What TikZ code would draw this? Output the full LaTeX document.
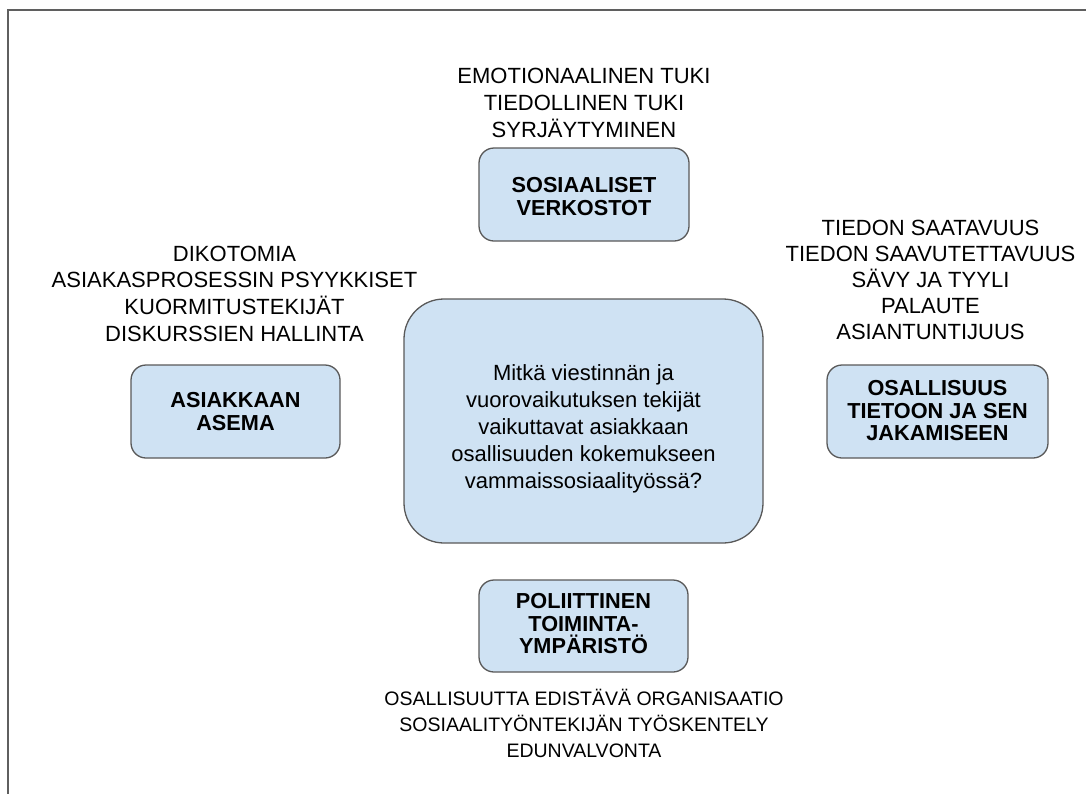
\documentclass[tikz,border=0pt]{standalone}
\usepackage{fontspec}
\setmainfont{Liberation Sans}
\definecolor{boxfill}{HTML}{CFE2F3}
\definecolor{boxline}{HTML}{595959}
\definecolor{frameline}{HTML}{5F5F5F}
\newcommand\firstln{\rule{0pt}{24pt}}
\tikzset{
  box/.style={draw=boxline, fill=boxfill, line width=1.3pt, rounded corners=15pt, inner sep=0pt},
  lbl/.style={inner sep=0pt, anchor=north, align=center, font=\fontsize{22}{26.7}\selectfont},
  lblr/.style={inner sep=0pt, anchor=north, align=center, font=\fontsize{22}{25.8}\selectfont},
  lblc/.style={inner sep=0pt, anchor=north, align=center, font=\fontsize{22}{27.2}\selectfont},
  lblb/.style={inner sep=0pt, anchor=north, align=center, font=\fontsize{19.5}{26}\selectfont},
  boxtxt/.style={inner sep=0pt, anchor=north, align=center, font=\fontsize{21.7}{22.6}\selectfont\bfseries}
}
\begin{document}
\begin{tikzpicture}[x=1pt,y=-1pt]
\useasboundingbox (0,0) rectangle (1086,793);
\clip (0,0) rectangle (1086,793);
% frame
\draw[frameline, line width=2pt] (7.5,800) -- (7.5,9.5) -- (1100,9.5);
% boxes
\node[box, minimum width=210pt, minimum height=93pt] (sos) at (584,194.5) {};
\node[box, minimum width=209pt, minimum height=93pt] (asi) at (235.5,411.5) {};
\node[box, minimum width=221pt, minimum height=93pt] (osa) at (937.5,411.5) {};
\node[box, minimum width=209pt, minimum height=92pt] (pol) at (583.5,626) {};
\node[box, rounded corners=40pt, minimum width=359pt, minimum height=244pt] (ctr) at (583.5,421) {};
% box texts
\node[boxtxt] (sostxt) at (584,168.2) {\firstln SOSIAALISET\\VERKOSTOT};
\node[boxtxt] (asitxt) at (235.5,383.2) {\firstln ASIAKKAAN\\ASEMA};
\node[boxtxt] (osatxt) at (937.5,371.5) {\firstln OSALLISUUS\\TIETOON JA SEN\\JAKAMISEEN};
\node[boxtxt] (poltxt) at (583.5,584.5) {\firstln POLIITTINEN\\TOIMINTA-\\YMPÄRISTÖ};
\node[lblc] (ctrtxt) at (583.5,355.8) {\firstln Mitkä viestinnän ja\\vuorovaikutuksen tekijät\\vaikuttavat asiakkaan\\osallisuuden kokemukseen\\vammaissosiaalityössä?};
% surrounding lists
\node[lbl] (toplist) at (584,59.5) {\firstln EMOTIONAALINEN TUKI\\TIEDOLLINEN TUKI\\SYRJÄYTYMINEN};
\node[lbl] (leftlist) at (234.5,237) {\firstln DIKOTOMIA\\ASIAKASPROSESSIN PSYYKKISET\\KUORMITUSTEKIJÄT\\DISKURSSIEN HALLINTA};
\node[lblr] (rightlist) at (930.5,211.7) {\firstln TIEDON SAATAVUUS\\TIEDON SAAVUTETTAVUUS\\SÄVY JA TYYLI\\PALAUTE\\ASIANTUNTIJUUS};
\node[lblb] (botlist) at (584,681) {\firstln OSALLISUUTTA EDISTÄVÄ ORGANISAATIO\\SOSIAALITYÖNTEKIJÄN TYÖSKENTELY\\EDUNVALVONTA};
\end{tikzpicture}
\end{document}
